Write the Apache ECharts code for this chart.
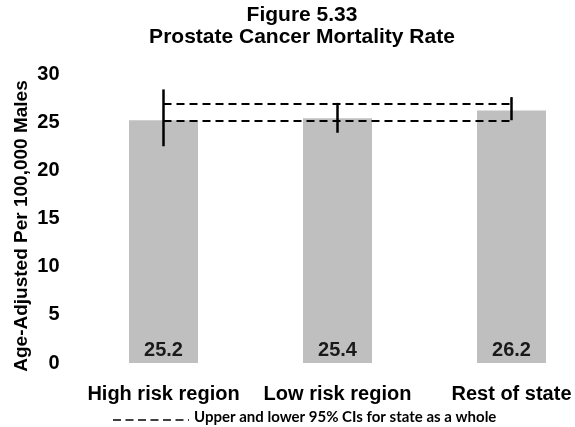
<!DOCTYPE html>
<html>
<head>
<meta charset="utf-8">
<script src="https://cdn.jsdelivr.net/npm/echarts@6/dist/echarts.min.js"></script>
<style>html,body{margin:0;padding:0;background:#fff}#chart{width:575px;height:427px}</style>
</head>
<body>
<div id="chart"></div>
<script>
const categories = ['High risk region', 'Low risk region', 'Rest of state'];
const rates = [25.2, 25.4, 26.2];
const ciLower = [22.5, 23.9, 25.2];
const ciUpper = [28.4, 27.0, 27.6];
const stateCI = [25.1, 26.9];
const yTicks = [0, 5, 10, 15, 20, 25, 30];
const titleLines = ['Figure 5.33', 'Prostate Cancer Mortality Rate'];
const yName = 'Age-Adjusted Per 100,000 Males';
const legendText = 'Upper and lower 95% CIs for state as a whole';

const FONT = "'Liberation Sans', Arial, sans-serif";
const chart = echarts.init(document.getElementById('chart'), null, {renderer: 'canvas'});

const errData = categories.map((c, i) => [i, ciLower[i], ciUpper[i]]);
const dashStyle = {color: '#000', width: 2, type: [8, 5]};

chart.setOption({
  animation: false,
  backgroundColor: '#fff',
  title: {
    text: titleLines.join('\n'),
    left: 302, top: 4, padding: 0, textAlign: 'center',
    textStyle: {fontFamily: FONT, fontSize: 21, fontWeight: 'bold', color: '#000', lineHeight: 22}
  },
  grid: {left: 76.5, right: -23.5, top: 74, bottom: 64, outerBoundsMode: 'none', containLabel: false},
  xAxis: {
    type: 'category', data: categories,
    axisLine: {show: false}, axisTick: {show: false},
    axisLabel: {fontFamily: FONT, fontSize: 20, fontWeight: 'bold', color: '#000', margin: 21, interval: 0}
  },
  yAxis: {
    type: 'value', min: yTicks[0], max: yTicks[yTicks.length - 1], interval: 5,
    axisLine: {show: false}, axisTick: {show: false}, splitLine: {show: false},
    axisLabel: {fontFamily: FONT, fontSize: 20, fontWeight: 'bold', color: '#000', margin: 17}
  },
  graphic: [
    {type: 'text', x: 22, y: 226, rotation: Math.PI / 2,
     style: {text: yName, fontFamily: FONT, fontSize: 19, fontWeight: 'bold', fill: '#000', align: 'center', verticalAlign: 'middle'}},
    {type: 'line', shape: {x1: 113, y1: 420, x2: 189, y2: 420},
     style: {stroke: '#000', lineWidth: 1.5, lineDash: [8, 4.5]}},
    {type: 'text', x: 194, y: 417.5,
     style: {text: legendText, fontFamily: "Lato, 'Open Sans', sans-serif", fontSize: 15, fontWeight: 'bold', fill: '#000', align: 'left', verticalAlign: 'middle'}}
  ],
  series: [
    {
      type: 'bar', data: rates, barWidth: 69,
      itemStyle: {color: '#BFBFBF'},
      label: {show: true, position: 'insideBottom', distance: 3, fontFamily: FONT, fontSize: 20, fontWeight: 'bold', color: '#1a1a1a'},
      markLine: {
        silent: true, symbol: ['none', 'none'], label: {show: false},
        lineStyle: dashStyle,
        data: stateCI.map(v => [
          {coord: [categories[0], v]},
          {coord: [categories[categories.length - 1], v]}
        ])
      },
      z: 1
    },
    {
      type: 'custom', data: errData, z: 5,
      encode: {x: 0, y: [1, 2]},
      renderItem: function (params, api) {
        const lo = api.coord([api.value(0), api.value(1)]);
        const hi = api.coord([api.value(0), api.value(2)]);
        return {type: 'line', shape: {x1: lo[0], y1: lo[1], x2: hi[0], y2: hi[1]},
                style: {stroke: '#000', lineWidth: 2.5}};
      }
    }
  ]
});
</script>
</body>
</html>
